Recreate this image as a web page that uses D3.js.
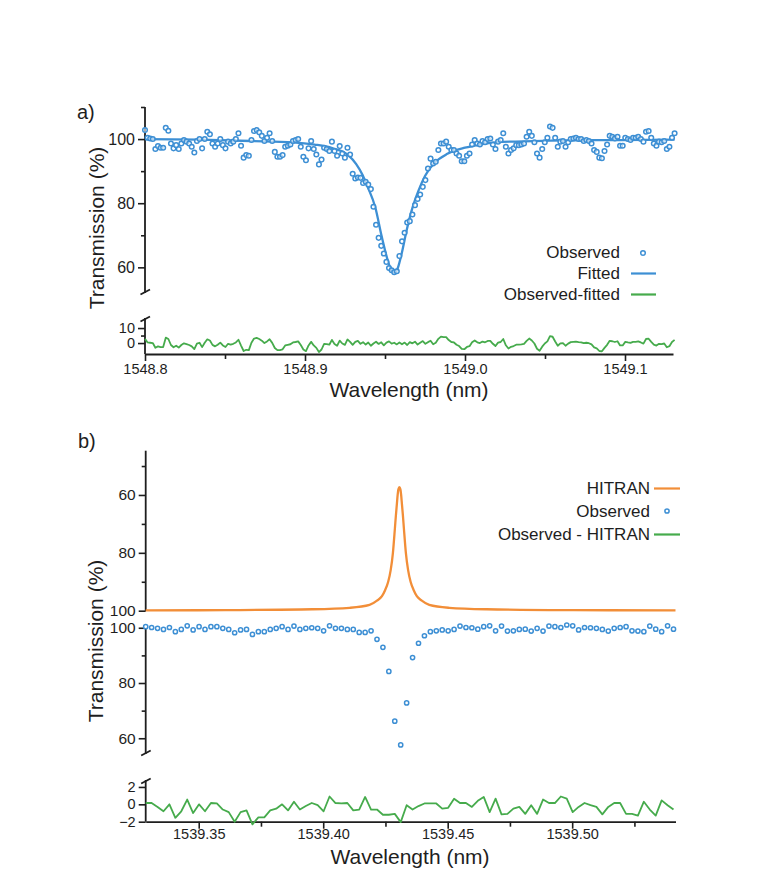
<!DOCTYPE html>
<html><head><meta charset="utf-8">
<script src="https://cdn.jsdelivr.net/npm/d3@7"></script>
<style>
html,body{margin:0;padding:0;background:#fff;}
svg text{font-family:"Liberation Sans",Arial,Helvetica,sans-serif;fill:#1e1e1e;}
</style></head>
<body>
<svg id="c" width="768" height="880"></svg>
<script>
// ---------- Panel a data ----------
const wlA_start = 1548.800, wlA_end = 1549.131;
const obsA = [
102.8,100.4,100.2,100.0,96.9,97.8,97.3,97.3,103.5,102.6,98.6,97.1,98.1,96.9,98.6,99.7,99.2,98.6,97.6,95.8,
99.4,100.0,97.1,100.0,102.3,101.5,98.6,97.6,98.6,100.0,98.1,97.1,99.2,98.6,99.2,100.0,101.8,97.9,94.2,95.0,
94.8,99.7,102.5,102.8,102.1,101.0,99.4,100.4,101.8,99.4,96.0,94.5,94.5,95.0,97.6,97.9,98.3,99.4,99.7,100.0,
97.6,94.5,93.4,97.1,99.4,96.9,95.2,
92.1,93.6,97.3,96.9,96.3,99.2,96.3,94.8,97.8,95.5,94.2,97.3,95.2,89.2,87.7,88.0,87.9,86.3,86.7,85.8,
84.4,78.9,73.3,69.2,66.7,64.3,61.7,59.8,59.1,58.5,58.8,63.5,68.1,70.8,74.0,74.4,76.5,79.4,81.3,82.7,
85.1,87.2,90.8,93.9,92.4,92.9,96.6,98.6,98.6,99.2,97.6,96.6,96.6,95.5,94.8,93.1,93.1,94.8,95.5,98.3,
99.7,98.6,98.3,99.4,99.0,100.0,100.2,98.3,96.9,99.2,99.7,
101.8,97.6,95.5,96.6,97.1,98.1,98.1,98.3,98.6,100.7,102.3,101.0,99.0,95.5,94.2,96.9,99.0,100.4,103.9,103.5,
100.4,97.6,99.2,99.4,97.6,99.0,100.0,100.2,100.4,100.0,100.0,99.4,99.7,99.4,98.6,96.6,96.0,94.2,94.0,96.3,
98.3,101.0,100.7,100.2,100.7,97.9,97.9,100.4,100.0,99.7,100.4,100.4,100.7,100.0,99.2,102.3,102.5,100.4,98.6,97.9,
99.2,99.0,99.4,96.9,97.6,100.4,101.8
];
const resA = [
2.8,0.4,0.2,0.0,-3.1,-2.2,-2.7,-2.7,3.6,2.7,-1.3,-2.8,-1.8,-3.0,-1.3,-0.2,-0.7,-1.3,-2.2,-4.0,
-0.4,0.2,-2.7,0.2,2.5,1.7,-1.2,-2.2,-1.1,0.3,-1.6,-2.6,-0.5,-1.1,-0.5,0.4,2.2,-1.7,-5.3,-4.5,
-4.7,0.2,3.0,3.4,2.7,1.6,0.0,1.1,2.5,0.1,-3.3,-4.7,-4.7,-4.2,-1.6,-1.2,-0.8,0.4,0.7,1.1,
-1.3,-4.3,-5.4,-1.6,0.8,-1.6,-3.2,
-6.0,-4.3,-0.5,-0.7,-1.1,2.1,-0.6,-1.8,1.6,-0.3,-1.2,2.4,0.8,
-1.2,0.8,1.5,-0.5,0.6,-1.0,0.4,-1.8,-0.3,0.9,-0.6,0.5,-1.5,0.3,1.1,-0.4,0.2,-0.9,0.4,-0.8,
0.3,-1.3,0.6,-0.2,0.9,-1.0,0.2,1.3,-0.5,0.6,1.5,-0.8,0.2,2.8,4.3,3.9,4.0,2.0,0.7,0.4,
-1.1,-2.0,-3.9,-4.1,-2.6,-2.1,0.5,1.7,0.5,0.0,1.0,0.5,1.4,1.5,-0.5,-2.0,0.3,0.7,
2.7,-1.5,-3.6,-2.5,-2.0,-1.1,-1.1,-0.9,-0.6,1.4,3.0,1.7,-0.3,-3.8,-5.1,-2.4,-0.3,1.1,4.6,4.2,
1.0,-1.8,-0.2,0.0,-1.8,-0.4,0.6,0.8,1.0,0.6,0.5,-0.1,0.2,-0.1,-0.9,-2.9,-3.5,-5.3,-5.5,-3.2,
-1.2,1.5,1.2,0.7,1.2,-1.6,-1.6,0.8,0.4,0.1,0.8,0.8,1.1,0.4,-0.4,2.7,2.9,0.8,-1.0,-1.7,
-0.5,-0.7,-0.3,-2.8,-2.1,0.7,2.1
];
const fitWl = [1548.800,1548.834,1548.866,1548.8925,1548.906,1548.917,1548.927,1548.932,1548.936,1548.939,
1548.944,1548.948,1548.952,1548.954,1548.956,1548.958,1548.9605,1548.9635,1548.967,1548.971,
1548.975,1548.981,1548.989,1549.000,1549.011,1549.019,1549.053,1549.097,1549.131];
const fitVal = [100.0,99.8,99.4,99.0,98.3,97.2,95.0,92.2,88.8,85.3,
78.6,69.5,61.7,59.0,58.3,59.8,64.5,71.5,78.3,84.0,
88.5,92.6,95.4,97.3,98.4,99.0,99.5,99.7,99.8];
const xTicksA = [1548.8,1548.9,1549.0,1549.1];
const xMinorA = [1548.85,1548.95,1549.05];
const yTicksA = [60,80,100];
const yMinorA = [70,90,110];
const rTicksA = [0,10];
const rMinorA = [5];

// ---------- Panel b data ----------
const wlB_start = 1539.3287, wlB_end = 1539.5407;
const obsB = [
100.4,100.1,99.8,99.4,100.1,98.6,99.4,100.7,99.2,100.4,
99.4,100.4,100.4,99.8,99.4,98.2,99.2,99.4,97.6,98.6,
98.6,99.4,99.8,100.4,99.4,100.6,99.4,99.8,100.0,99.8,
98.9,100.7,99.8,99.8,99.4,99.4,98.3,98.3,98.9,95.8,
92.9,84.2,66.2,57.6,72.8,89.2,94.4,97.1,98.6,98.9,
99.2,98.9,99.4,100.6,100.1,100.0,99.5,100.4,100.7,98.9,
100.6,98.8,98.9,99.4,99.5,98.8,99.8,98.8,100.6,100.4,
100.1,101.0,100.7,99.2,100.1,100.0,99.8,99.4,98.8,99.8,
100.1,100.4,98.9,98.8,98.6,100.6,99.5,98.6,100.7,99.5
];
const resB = [
0.15,0.15,-0.3,-0.8,0,-1.55,-0.8,0.55,-1.0,0,
-0.8,0.15,0.1,-0.6,-0.9,-2.0,-0.9,-0.7,-2.3,-1.5,
-1.5,-0.7,-0.5,0,-0.7,0.3,-0.6,-0.2,0.15,-0.1,
-0.8,0.9,0.15,0.1,0.15,-0.7,-0.6,0.85,-0.6,-0.6,
-1.2,-1.2,-1.1,-2.05,-0.1,-0.6,-0.2,0.1,0.1,0.1,
-0.5,-0.4,0.65,0.15,0.15,-0.3,0.4,0.85,-0.9,0.65,
-1.15,-1.1,-0.5,-0.3,-1.1,-0.1,-1.1,0.55,0.15,0.15,
0.9,0.65,-0.9,-0.3,0.15,-0.1,-0.3,-1.15,-0.3,0.15,
0.15,-1.1,-1.1,-1.3,0.3,-0.6,-1.3,0.45,-0.1,-0.6
];
const hitWl = [1539.3287,1539.3606,1539.3956,1539.4106,1539.4186,1539.4216,1539.4236,1539.4248,1539.4261,1539.4271,
1539.4280,1539.4288,1539.4292,1539.4296,1539.4299,1539.4302,1539.4306,1539.4310,1539.4313,1539.4316,1539.4320,
1539.4324,1539.4332,1539.4341,1539.4351,1539.4364,1539.4376,1539.4396,1539.4426,1539.4506,1539.4656,1539.5006,1539.5415];
const hitVal = [99.9,99.8,99.5,99.0,98.0,96.5,95.0,93.0,90.0,86.0,
80.0,71.5,67.0,63.0,60.0,58.0,57.3,58.0,60.0,63.0,67.0,
71.5,80.0,86.0,90.0,93.0,95.0,96.5,98.0,99.0,99.5,99.8,99.9];
const xTicksB = [1539.35,1539.40,1539.45,1539.50];
const xMinorB = [1539.375,1539.425,1539.475,1539.525];
const yTicksH = [60,80,100];
const yMinorH = [50,70,90];
const yTicksO = [60,80,100];
const yMinorO = [70,90];
const rTicksB = [-2,0,2];

// ---------- styles ----------
const BLUE = "#3d8fd4", ORANGE = "#f28e38", GREEN = "#46ab4c", AX = "#1e1e1e";

const svg = d3.select("#c");

const xA = d3.scaleLinear([1548.8, 1549.13], [145, 673]);
const yA = d3.scaleLinear([52, 110], [293, 107]);
const yRA = d3.scaleLinear([-7.3, 16.7], [354, 318]);
const xB = d3.scaleLinear([1539.3287, 1539.5415], [145.7, 675.5]);
const yH = d3.scaleLinear([44.7, 100], [450.7, 610.7]);
const yO = d3.scaleLinear([54.3, 101], [754, 625]);
const yRB = d3.scaleLinear([-2, 2.8], [821.7, 780]);

function styleAxis(g, fs) {
  g.select(".domain").attr("stroke", AX).attr("stroke-width", 1.8);
  g.selectAll(".tick line").attr("stroke", AX).attr("stroke-width", 1.6);
  g.selectAll(".tick text").attr("font-size", fs).attr("fill", AX)
    .style("font-family", '"Liberation Sans",Arial,sans-serif');
}
function yAxis(scale, x, ticks, minor, fs) {
  const g = svg.append("g").attr("transform", `translate(${x},0)`)
    .call(d3.axisLeft(scale).tickValues(ticks).tickSize(7).tickPadding(3).tickSizeOuter(0).tickFormat(d3.format("d")));
  styleAxis(g, fs);
  g.select(".domain").remove();
  if (minor && minor.length) {
    const m = svg.append("g").attr("transform", `translate(${x},0)`)
      .call(d3.axisLeft(scale).tickValues(minor).tickSize(4).tickFormat(""));
    m.select(".domain").remove();
    m.selectAll(".tick line").attr("stroke", AX).attr("stroke-width", 1.6);
  }
  return g;
}
function xAxis(scale, y, ticks, minor, fmt, pad) {
  const g = svg.append("g").attr("transform", `translate(0,${y})`)
    .call(d3.axisBottom(scale).tickValues(ticks).tickSize(7).tickPadding(pad).tickSizeOuter(0).tickFormat(fmt));
  styleAxis(g, 14.5);
  const m = svg.append("g").attr("transform", `translate(0,${y})`)
    .call(d3.axisBottom(scale).tickValues(minor).tickSize(5).tickFormat(""));
  m.select(".domain").remove();
  m.selectAll(".tick line").attr("stroke", AX).attr("stroke-width", 1.6);
}
function vline(x, y1, y2) {
  svg.append("line").attr("x1", x).attr("x2", x).attr("y1", y1).attr("y2", y2)
    .attr("stroke", AX).attr("stroke-width", 1.8);
}
function brk(x, y) {
  svg.append("line").attr("x1", x - 4.5).attr("y1", y + 2.5).attr("x2", x + 5).attr("y2", y - 2.5)
    .attr("stroke", AX).attr("stroke-width", 1.8);
}

// ===== Panel a =====
svg.append("text").attr("x", 77).attr("y", 119).attr("font-size", 20).text("a)");
vline(145, 107, 293);
yAxis(yA, 145, yTicksA, yMinorA, 16);
brk(145, 292);
vline(145, 318, 354);
yAxis(yRA, 145, rTicksA, rMinorA, 14.5);
brk(145, 319);
xAxis(xA, 354, xTicksA, xMinorA, d3.format(".1f"), 3);
svg.append("text").attr("x", 409).attr("y", 397).attr("text-anchor", "middle")
  .attr("font-size", 21).text("Wavelength (nm)");
svg.append("text").attr("transform", "translate(104,228) rotate(-90)").attr("text-anchor", "middle")
  .attr("font-size", 21).text("Transmission (%)");

const stepA = (wlA_end - wlA_start) / (obsA.length - 1);
const wA = i => wlA_start + i * stepA;

svg.append("path").datum(fitWl.map((w, i) => [w, fitVal[i]]))
  .attr("d", d3.line().x(d => xA(d[0])).y(d => yA(d[1])).curve(d3.curveMonotoneX))
  .attr("fill", "none").attr("stroke", BLUE).attr("stroke-width", 2.3);
svg.append("g").selectAll("circle").data(obsA).join("circle")
  .attr("cx", (d, i) => xA(wA(i))).attr("cy", d => yA(d)).attr("r", 2.3)
  .attr("fill", "#fff").attr("fill-opacity", 0.6).attr("stroke", BLUE).attr("stroke-width", 1.5);
svg.append("path").datum(resA)
  .attr("d", d3.line().x((d, i) => xA(wA(i))).y(d => yRA(d)))
  .attr("fill", "none").attr("stroke", GREEN).attr("stroke-width", 1.8).attr("stroke-linejoin", "round");

const legA = svg.append("g").attr("font-size", 17);
legA.append("text").attr("x", 620).attr("y", 258).attr("text-anchor", "end").text("Observed");
legA.append("circle").attr("cx", 643).attr("cy", 253).attr("r", 2.3).attr("fill", "#fff").attr("stroke", BLUE).attr("stroke-width", 1.5);
legA.append("text").attr("x", 620).attr("y", 279).attr("text-anchor", "end").text("Fitted");
legA.append("line").attr("x1", 631).attr("x2", 656).attr("y1", 273.5).attr("y2", 273.5).attr("stroke", BLUE).attr("stroke-width", 2.2);
legA.append("text").attr("x", 620).attr("y", 300).attr("text-anchor", "end").text("Observed-fitted");
legA.append("line").attr("x1", 631).attr("x2", 656).attr("y1", 294.5).attr("y2", 294.5).attr("stroke", GREEN).attr("stroke-width", 2.2);

// ===== Panel b =====
svg.append("text").attr("x", 78).attr("y", 448).attr("font-size", 20).text("b)");
vline(145.7, 450.7, 611);
yAxis(yH, 145.7, yTicksH, yMinorH, 15.5);
vline(145.7, 625, 754);
yAxis(yO, 145.7, yTicksO, yMinorO, 15.5);
brk(145.7, 753);
vline(145.7, 780, 821.7);
yAxis(yRB, 145.7, rTicksB, [], 14.5);
brk(145.7, 781);
xAxis(xB, 821.7, xTicksB, xMinorB, d3.format(".2f"), 0);
svg.append("text").attr("x", 410).attr("y", 864).attr("text-anchor", "middle")
  .attr("font-size", 21).text("Wavelength (nm)");
svg.append("text").attr("transform", "translate(103,641) rotate(-90)").attr("text-anchor", "middle")
  .attr("font-size", 21).text("Transmission (%)");

const stepB = (wlB_end - wlB_start) / (obsB.length - 1);
const wB = i => wlB_start + i * stepB;

svg.append("path").datum(hitWl.map((w, i) => [w, hitVal[i]]))
  .attr("d", d3.line().x(d => xB(d[0])).y(d => yH(d[1])).curve(d3.curveMonotoneX))
  .attr("fill", "none").attr("stroke", ORANGE).attr("stroke-width", 2.3);
svg.append("g").selectAll("circle").data(obsB).join("circle")
  .attr("cx", (d, i) => xB(wB(i))).attr("cy", d => yO(d)).attr("r", 2.1)
  .attr("fill", "#fff").attr("stroke", BLUE).attr("stroke-width", 1.5);
svg.append("path").datum(resB)
  .attr("d", d3.line().x((d, i) => xB(wB(i))).y(d => yRB(d)))
  .attr("fill", "none").attr("stroke", GREEN).attr("stroke-width", 1.8).attr("stroke-linejoin", "round");

const legB = svg.append("g").attr("font-size", 17);
legB.append("text").attr("x", 650).attr("y", 494).attr("text-anchor", "end").text("HITRAN");
legB.append("line").attr("x1", 654).attr("x2", 680).attr("y1", 488.5).attr("y2", 488.5).attr("stroke", ORANGE).attr("stroke-width", 2.2);
legB.append("text").attr("x", 650).attr("y", 517).attr("text-anchor", "end").text("Observed");
legB.append("circle").attr("cx", 667).attr("cy", 511).attr("r", 2.1).attr("fill", "#fff").attr("stroke", BLUE).attr("stroke-width", 1.5);
legB.append("text").attr("x", 650).attr("y", 540).attr("text-anchor", "end").text("Observed - HITRAN");
legB.append("line").attr("x1", 654).attr("x2", 680).attr("y1", 534.5).attr("y2", 534.5).attr("stroke", GREEN).attr("stroke-width", 2.2);
</script>
</body></html>
